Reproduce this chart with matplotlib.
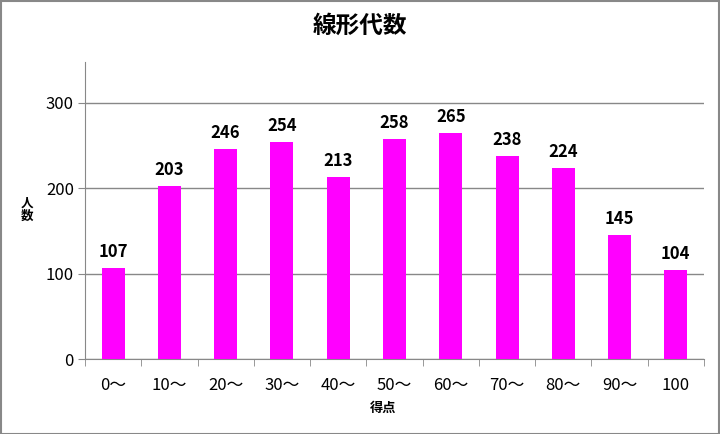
import numpy as np
import matplotlib.pyplot as plt
from matplotlib.patches import Rectangle

plt.rcParams['font.family'] = ['Noto Sans CJK JP', 'DejaVu Sans']

categories = ['0〜', '10〜', '20〜', '30〜', '40〜', '50〜', '60〜', '70〜', '80〜', '90〜', '100']
counts = [107, 203, 246, 254, 213, 258, 265, 238, 224, 145, 104]
yticks = [0, 100, 200, 300]

fig = plt.figure(figsize=(7.2, 4.34), dpi=100)
ax = fig.add_axes([85/720, 1-359/434, 619/720, 297/434])

x = np.arange(len(categories))
bars = ax.bar(x, counts, width=0.41, color='#FF00FF', zorder=3)

for xi, v in zip(x, counts):
    ax.annotate(str(v), (xi, v), xytext=(0, 5), textcoords='offset points',
                ha='center', va='bottom', fontsize=12, fontweight='bold')

ax.set_xlim(-0.5, len(categories) - 0.5)
ax.set_ylim(0, 348)
ax.set_yticks(yticks)
ax.yaxis.grid(True, color='#888888', linewidth=1, zorder=0)

ax.set_xticks(x)
ax.set_xticklabels(categories, fontsize=12)
ax.set_xticks(np.arange(len(categories) + 1) - 0.5, minor=True)
ax.tick_params(axis='x', which='major', length=0, pad=13)
ax.tick_params(axis='x', which='minor', length=5, color='#888888', direction='out')
ax.tick_params(axis='y', length=5, color='#888888', labelsize=12, pad=3)

for s in ['top', 'right']:
    ax.spines[s].set_visible(False)
for s in ['left', 'bottom']:
    ax.spines[s].set_color('#888888')

fig.text(0.5, 1 - 26/434, '線形代数', ha='center', va='center', fontsize=17, fontweight='bold')
fig.text(383/720, 1 - 408/434, '得点', ha='center', va='center', fontsize=9.5, fontweight='bold')
fig.text(27/720, 1 - 210/434, '人\n数', ha='center', va='center', fontsize=9,
         fontweight='bold', linespacing=1.05)

fig.patches.append(Rectangle((0.5/720, 0.5/434), 1 - 1.5/720, 1 - 1.5/434, transform=fig.transFigure,
                             fill=False, edgecolor='#888888', linewidth=1.5))

fig.savefig('out.png', dpi=100)
